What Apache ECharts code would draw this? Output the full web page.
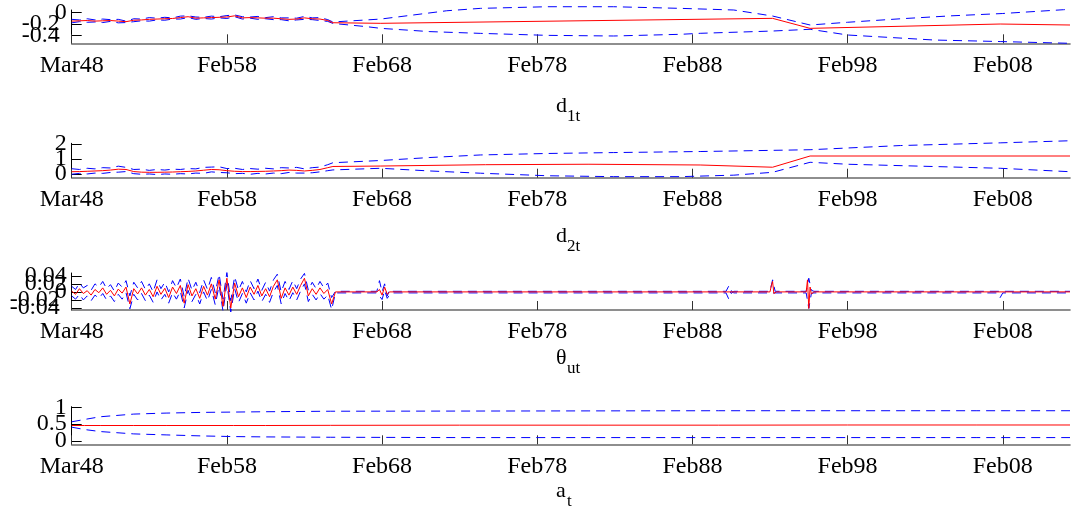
<!DOCTYPE html>
<html><head><meta charset="utf-8">
<script src="https://cdn.jsdelivr.net/npm/echarts@6/dist/echarts.min.js"></script>
<style>html,body{margin:0;padding:0;background:#fff}#c{width:1077px;height:509px}</style>
</head><body><div id="c"></div>
<script>
// ---------- x axis (time index) ----------
const tickPos = [0, 120, 240, 360, 480, 600, 720];
const tickLabels = ['Mar48', 'Feb58', 'Feb68', 'Feb78', 'Feb88', 'Feb98', 'Feb08'];
const xMax = 772;

// ---------- panel 1: d_1t ----------
const p1EarlyX = [0,6,12,18,24,30,36,42,48,54,60,66,72,78,84,90,96,102,108,114,120,126,132,138,144,150,156,162,168,174,180,186,192,198];
const p1RedEarly = [-0.15,-0.145,-0.14,-0.15,-0.145,-0.14,-0.15,-0.16,-0.135,-0.13,-0.12,-0.115,-0.11,-0.105,-0.09,-0.075,-0.1,-0.095,-0.09,-0.085,-0.08,-0.06,-0.095,-0.09,-0.095,-0.1,-0.1,-0.11,-0.12,-0.115,-0.095,-0.11,-0.115,-0.14];
const p1UpEarly = [-0.12,-0.13,-0.11,-0.13,-0.115,-0.125,-0.12,-0.15,-0.11,-0.115,-0.09,-0.1,-0.085,-0.095,-0.065,-0.06,-0.08,-0.085,-0.065,-0.075,-0.055,-0.045,-0.075,-0.08,-0.07,-0.09,-0.075,-0.095,-0.095,-0.1,-0.07,-0.095,-0.09,-0.125];
const p1LoEarly = [-0.18,-0.16,-0.17,-0.165,-0.175,-0.155,-0.18,-0.175,-0.16,-0.145,-0.15,-0.13,-0.135,-0.115,-0.115,-0.09,-0.12,-0.105,-0.115,-0.095,-0.105,-0.075,-0.115,-0.1,-0.12,-0.11,-0.125,-0.125,-0.145,-0.13,-0.12,-0.125,-0.14,-0.155];
const p1RedLateX = [202, 239, 542, 571, 718, 772];
const p1RedLate = [-0.178, -0.188, -0.103, -0.274, -0.200, -0.217];
const p1UpLateX = [202, 228, 239, 264, 290, 316, 368, 419, 471, 512, 542, 571, 600, 641, 680, 720, 767, 772];
const p1UpLate = [-0.165, -0.13, -0.115, -0.046, 0.027, 0.068, 0.096, 0.096, 0.068, 0.04, -0.063, -0.217, -0.17, -0.11, -0.06, -0.02, 0.045, 0.05];
const p1LoLateX = [202, 228, 239, 277, 316, 368, 419, 471, 486, 542, 571, 600, 667, 718, 772];
const p1LoLate = [-0.19, -0.245, -0.274, -0.33, -0.36, -0.394, -0.405, -0.376, -0.359, -0.32, -0.29, -0.388, -0.474, -0.50, -0.53];

// ---------- panel 2: d_2t ----------
const p2EarlyX = p1EarlyX;
const p2RedEarly = [0.15,0.16,0.18,0.2,0.22,0.26,0.32,0.30,0.16,0.12,0.11,0.11,0.12,0.13,0.15,0.17,0.2,0.25,0.3,0.28,0.22,0.18,0.16,0.16,0.17,0.18,0.2,0.22,0.26,0.24,0.2,0.24,0.3,0.42];
const p2UpEarly = [0.35,0.3,0.38,0.34,0.42,0.4,0.52,0.44,0.3,0.32,0.24,0.3,0.26,0.32,0.3,0.36,0.34,0.44,0.46,0.48,0.36,0.38,0.3,0.36,0.32,0.38,0.34,0.42,0.4,0.44,0.34,0.42,0.46,0.62];
const p2LoEarly = [-0.02,0.04,0.0,0.06,0.04,0.1,0.12,0.16,0.02,-0.02,0.0,-0.04,0.0,-0.02,0.02,0.0,0.06,0.04,0.14,0.1,0.08,0.02,0.04,-0.02,0.04,0.0,0.06,0.02,0.1,0.06,0.06,0.08,0.14,0.22];
const p2RedLateX = [202, 239, 320, 400, 486, 542, 571, 772];
const p2RedLate = [0.5, 0.53, 0.62, 0.65, 0.6, 0.45, 1.2, 1.2];
const p2UpLateX = [202, 239, 277, 316, 368, 419, 486, 571, 641, 718, 772];
const p2UpLate = [0.75, 0.9, 1.1, 1.27, 1.37, 1.43, 1.5, 1.62, 1.9, 2.08, 2.22];
const p2LoLateX = [202, 239, 277, 316, 368, 419, 471, 512, 542, 571, 600, 718, 772];
const p2LoLate = [0.27, 0.38, 0.2, 0.05, -0.12, -0.18, -0.18, -0.08, 0.11, 0.78, 0.65, 0.38, 0.15];

// ---------- panel 3: theta_ut ----------
const p3EarlyX = [0,3,6,9,12,15,18,21,24,27,30,33,36,39,42,45,48,51,54,57,60,63,66,69,72,75,78,81,84,87,90,93,96,99,102,105,108,111,114,117,120,123,126,129,132,135,138,141,144,147,150,153,156,159,162,165,168,171,174,177,180,183,186,189,192,195,198,201];
const p3RedEarly = [0.002,-0.006,0.008,-0.004,0.003,-0.008,0.006,-0.002,0.010,-0.006,
  0.004,-0.010,0.007,-0.003,0.012,-0.030,0.008,-0.005,0.010,-0.008,
  0.006,-0.012,0.014,-0.006,0.009,-0.014,0.012,-0.004,0.016,-0.028,
  0.018,-0.010,0.008,-0.016,0.014,-0.008,0.020,-0.018,0.030,-0.036,
  0.034,-0.040,0.022,-0.012,0.010,-0.014,0.012,-0.006,0.016,-0.010,
  0.008,-0.012,0.014,0.030,-0.016,0.010,-0.008,0.012,-0.006,0.016,
  0.034,-0.010,0.008,-0.006,0.010,-0.004,0.006,-0.030];
const p3UpEarly = [0.014,0.006,0.022,0.010,0.016,0.004,0.020,0.012,0.026,0.008,
  0.018,0.002,0.022,0.012,0.028,-0.010,0.024,0.010,0.026,0.006,
  0.020,0.000,0.030,0.008,0.024,0.000,0.028,0.010,0.032,-0.012,
  0.034,0.004,0.024,-0.002,0.030,0.006,0.036,-0.002,0.044,-0.018,
  0.048,-0.022,0.038,0.004,0.026,0.000,0.028,0.008,0.032,0.004,
  0.024,0.002,0.030,0.044,0.000,0.026,0.006,0.028,0.008,0.032,
  0.046,0.004,0.024,0.008,0.026,0.010,0.022,-0.014];
const p3LoEarly = [-0.010,-0.018,-0.006,-0.020,-0.010,-0.022,-0.008,-0.016,-0.004,-0.020,
  -0.010,-0.024,-0.006,-0.018,-0.002,-0.042,-0.006,-0.020,-0.004,-0.022,
  -0.008,-0.026,0.000,-0.020,-0.006,-0.028,-0.002,-0.018,0.002,-0.040,
  0.004,-0.024,-0.006,-0.030,0.000,-0.022,0.006,-0.032,0.016,-0.048,
  0.020,-0.050,0.008,-0.026,-0.004,-0.028,-0.002,-0.020,0.002,-0.024,
  -0.006,-0.026,0.000,0.016,-0.030,-0.004,-0.022,-0.002,-0.020,0.002,
  0.020,-0.024,-0.006,-0.020,-0.004,-0.018,-0.008,-0.044];
const p3RedLateX = [204, 236, 238, 240, 242, 244, 246, 540, 541, 542, 543, 545, 568, 569, 570, 571, 572, 574, 772];
const p3RedLate = [0, 0, 0.006, -0.008, 0.012, -0.006, 0, 0, 0.015, 0.026, -0.004, 0, 0, 0.03, -0.041, 0.012, -0.005, 0, 0];
const p3UpLateX = [204, 236, 238, 240, 242, 244, 246, 248, 506, 508, 510, 512, 540, 542, 544, 568, 570, 572, 574, 772];
const p3UpLate = [0.0015, 0.0015, 0.028, 0.0, 0.02, -0.01, 0.006, 0.0015, 0.0015, 0.014, -0.004, 0.0015, 0.0015, 0.03, 0.0015, 0.0015, 0.034, 0.004, 0.0015, 0.0015];
const p3LoLateX = [204, 236, 238, 240, 242, 244, 246, 248, 506, 508, 510, 512, 568, 570, 572, 574, 716, 718, 720, 772];
const p3LoLate = [-0.0025, -0.0025, -0.01, -0.019, 0.004, -0.016, -0.006, -0.0025, -0.0025, -0.017, 0.003, -0.0025, -0.0025, -0.041, -0.004, -0.0025, -0.0025, -0.014, -0.0025, -0.0025];

// ---------- panel 4: a_t ----------
const p4X = [0, 10, 22, 48, 73, 100, 125, 150, 200, 300, 400, 500, 600, 700, 772];
const p4Red = [0.46, 0.46, 0.46, 0.46, 0.46, 0.46, 0.46, 0.46, 0.465, 0.47, 0.47, 0.47, 0.475, 0.475, 0.475];
const p4Up = [0.57, 0.64, 0.72, 0.8, 0.83, 0.85, 0.86, 0.87, 0.885, 0.89, 0.895, 0.9, 0.9, 0.9, 0.9];
const p4Lo = [0.41, 0.34, 0.28, 0.21, 0.18, 0.15, 0.13, 0.12, 0.11, 0.1, 0.1, 0.1, 0.1, 0.1, 0.1];

// ---------- y-axis ticks ----------
const yTicks = [[-0.4, -0.2, 0], [0, 1, 2], [-0.04, -0.02, 0, 0.02, 0.04], [0, 0.5, 1]];
const yRange = [[-0.53, 0.04], [-0.25, 2.05], [-0.045, 0.047], [-0.1, 1.02]];

// ---------- build ----------
const zip = (xs, ys) => xs.map((x, i) => [x, ys[i]]);
const FONT = "'Liberation Serif', 'DejaVu Serif', serif";
const grids = [
  {left: 71.7, width: 998.3, top: 10, height: 33.3},
  {left: 71.7, width: 998.3, top: 143.3, height: 34.4},
  {left: 71.7, width: 998.3, top: 273, height: 37},
  {left: 71.7, width: 998.3, top: 406.7, height: 37.6}
];
const xAxes = grids.map((g, i) => ({
  type: 'value', gridIndex: i, min: 0, max: xMax,
  axisLine: {show: true, onZero: false, lineStyle: {color: '#6a6a6a', width: 1.6}},
  axisTick: {show: true, inside: true, length: 9, customValues: tickPos, lineStyle: {color: '#333', width: 1}},
  axisLabel: {customValues: tickPos, formatter: v => tickLabels[tickPos.indexOf(v)], fontFamily: FONT, fontSize: 24, color: '#000', margin: 10,
    showMinLabel: true, showMaxLabel: true},
  splitLine: {show: false}
}));
// one y axis per tick label so the tightly packed labels all stay visible (as in the original)
const yAxes = [];
const mainY = [];
grids.forEach((g, i) => {
  yTicks[i].forEach((t, k) => {
    if (k === 0) mainY.push(yAxes.length);
    yAxes.push({
      type: 'value', gridIndex: i, position: 'left', offset: 0, min: yRange[i][0], max: yRange[i][1],
      axisLine: {show: k === 0, onZero: false, lineStyle: {color: '#000', width: 1}},
      axisTick: {show: true, inside: true, length: 10, customValues: [t], lineStyle: {color: '#000', width: 1}},
      axisLabel: {customValues: [t], fontFamily: FONT, fontSize: 24, color: '#000', margin: 5,
        showMinLabel: true, showMaxLabel: true,
        formatter: v => v < 0 ? '{n|' + v + '}' : '' + v,
        rich: {n: {fontFamily: FONT, fontSize: 24, color: '#000', padding: [0, 7, 0, 0]}}},
      splitLine: {show: false}
    });
  });
});
const blue = {color: '#0000ff', width: 1, type: [9, 6]};
const red = {color: '#ff0000', width: 1};
function ser(i, data, style, z) {
  return {type: 'line', xAxisIndex: i, yAxisIndex: mainY[i], data: data, symbol: 'none', showSymbol: false,
    lineStyle: style, clip: false, z: z, animation: false, silent: true};
}
const series = [
  ser(0, zip(p1EarlyX.concat(p1UpLateX), p1UpEarly.concat(p1UpLate)), blue, 2),
  ser(0, zip(p1EarlyX.concat(p1LoLateX), p1LoEarly.concat(p1LoLate)), blue, 2),
  ser(0, zip(p1EarlyX.concat(p1RedLateX), p1RedEarly.concat(p1RedLate)), red, 3),
  ser(1, zip(p2EarlyX.concat(p2UpLateX), p2UpEarly.concat(p2UpLate)), blue, 2),
  ser(1, zip(p2EarlyX.concat(p2LoLateX), p2LoEarly.concat(p2LoLate)), blue, 2),
  ser(1, zip(p2EarlyX.concat(p2RedLateX), p2RedEarly.concat(p2RedLate)), red, 3),
  ser(2, zip(p3EarlyX.concat(p3UpLateX), p3UpEarly.concat(p3UpLate)), blue, 2),
  ser(2, zip(p3EarlyX.concat(p3LoLateX), p3LoEarly.concat(p3LoLate)), blue, 2),
  ser(2, zip(p3EarlyX.concat(p3RedLateX), p3RedEarly.concat(p3RedLate)), red, 3),
  ser(3, zip(p4X, p4Up), blue, 2),
  ser(3, zip(p4X, p4Lo), blue, 2),
  ser(3, zip(p4X, p4Red), red, 3)
];
const mainTitles = [['d', '1t', 95], ['d', '2t', 225], ['θ', 'ut', 347], ['a', 't', 480]];
const titles = [];
mainTitles.forEach(t => {
  titles.push({text: t[0], left: 556, top: t[2], padding: 0, textStyle: {fontFamily: FONT, fontSize: 22, fontWeight: 'normal', color: '#000'}});
  titles.push({text: t[1], left: 567, top: t[2] + 13, padding: 0, textStyle: {fontFamily: FONT, fontSize: 17, fontWeight: 'normal', color: '#000'}});
});
const chart = echarts.init(document.getElementById('c'), null, {renderer: 'canvas'});
chart.setOption({
  animation: false,
  backgroundColor: '#fff',
  title: titles,
  grid: grids,
  xAxis: xAxes,
  yAxis: yAxes,
  series: series
});
</script></body></html>
